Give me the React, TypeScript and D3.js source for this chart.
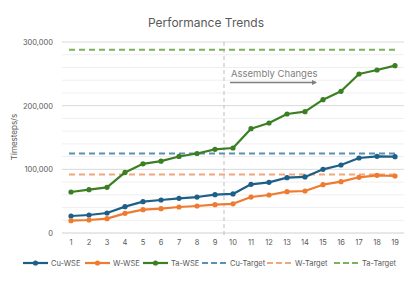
import React, { useEffect, useRef } from "react";
import * as d3 from "d3";

const steps = d3.range(1, 20).map(String);
const cuWse = [26700, 28300, 31400, 41400, 49200, 51800, 54500, 56500, 60200, 61300, 76500, 79600, 86900, 88000, 100000, 106800, 117800, 120500, 119900];
const wWse = [19400, 20400, 22500, 30900, 36600, 38200, 40800, 42400, 44500, 45800, 56500, 59700, 64900, 66000, 75900, 80600, 87500, 90600, 89500];
const taWse = [64400, 68000, 71700, 95200, 108600, 112800, 120200, 124900, 131400, 133500, 163800, 172800, 186900, 190600, 209400, 222600, 249700, 256000, 262800];
const targets = [
  { name: "Cu-Target", value: 125000, color: "#5b8fb3" },
  { name: "W-Target", value: 92000, color: "#f4a67a" },
  { name: "Ta-Target", value: 288000, color: "#7ab35a" },
];
const series = [
  { name: "Cu-WSE", values: cuWse, color: "#1d5f86" },
  { name: "W-WSE", values: wWse, color: "#ee7b30" },
  { name: "Ta-WSE", values: taWse, color: "#3b7f23" },
];
const yTicks = [0, 100000, 200000, 300000];

const App = () => {
  const ref = useRef<SVGSVGElement>(null);

  useEffect(() => {
    const width = 415;
    const height = 281;
    const svg = d3.select(ref.current);
    svg.selectAll("*").remove();
    svg.attr("width", width).attr("height", height);
    const font = "Inter, 'Open Sans', sans-serif";

    const x = d3.scaleBand().domain(steps).range([62, 404]);
    const y = d3.scaleLinear().domain([0, 300000]).range([233, 42]);
    const cx = (i: number) => x(steps[i])! + x.bandwidth() / 2;

    // gridlines every 20,000
    svg
      .append("g")
      .selectAll("line")
      .data(d3.range(20000, 300001, 20000))
      .join("line")
      .attr("x1", 62)
      .attr("x2", 404)
      .attr("y1", (d) => y(d))
      .attr("y2", (d) => y(d))
      .attr("stroke", (d) => (d % 100000 === 0 ? "#d9d9d9" : "#efefef"))
      .attr("stroke-width", 1);

    svg
      .append("line")
      .attr("x1", 62)
      .attr("x2", 404)
      .attr("y1", y(0))
      .attr("y2", y(0))
      .attr("stroke", "#d0d0d0");

    // y labels
    svg
      .append("g")
      .attr("font-family", font)
      .attr("font-size", 7.5)
      .attr("fill", "#595959")
      .attr("text-anchor", "end")
      .selectAll("text")
      .data(yTicks)
      .join("text")
      .attr("x", 53)
      .attr("y", (d) => y(d) + 3)
      .text((d) => d3.format(",")(d));

    // x labels
    svg
      .append("g")
      .attr("font-family", font)
      .attr("font-size", 7.5)
      .attr("fill", "#595959")
      .attr("text-anchor", "middle")
      .selectAll("text")
      .data(steps)
      .join("text")
      .attr("x", (d, i) => cx(i))
      .attr("y", 245)
      .text((d) => d);

    // title + axis title
    svg
      .append("text")
      .attr("x", 206)
      .attr("y", 27)
      .attr("text-anchor", "middle")
      .attr("font-family", font)
      .attr("font-size", 12)
      .attr("fill", "#595959")
      .text("Performance Trends");

    svg
      .append("text")
      .attr("transform", "translate(17,137) rotate(-90)")
      .attr("text-anchor", "middle")
      .attr("font-family", font)
      .attr("font-size", 8)
      .attr("fill", "#595959")
      .text("Timesteps/s");

    // vertical divider between 9 and 10
    const divX = (cx(8) + cx(9)) / 2;
    svg
      .append("line")
      .attr("x1", divX)
      .attr("x2", divX)
      .attr("y1", 42)
      .attr("y2", 236)
      .attr("stroke", "#bfbfbf")
      .attr("stroke-width", 1)
      .attr("stroke-dasharray", "4,3");

    // annotation
    svg
      .append("text")
      .attr("x", 231)
      .attr("y", 77)
      .attr("font-family", font)
      .attr("font-size", 9.5)
      .attr("fill", "#7f7f7f")
      .text("Assembly Changes");
    svg
      .append("defs")
      .append("marker")
      .attr("id", "arrow")
      .attr("viewBox", "0 0 10 10")
      .attr("refX", 8)
      .attr("refY", 5)
      .attr("markerWidth", 4)
      .attr("markerHeight", 4)
      .attr("orient", "auto")
      .append("path")
      .attr("d", "M0,0L10,5L0,10z")
      .attr("fill", "#7f7f7f");
    svg
      .append("line")
      .attr("x1", 230)
      .attr("x2", 316)
      .attr("y1", 82.5)
      .attr("y2", 82.5)
      .attr("stroke", "#7f7f7f")
      .attr("stroke-width", 1.3)
      .attr("marker-end", "url(#arrow)");

    // target lines
    svg
      .append("g")
      .selectAll("line")
      .data(targets)
      .join("line")
      .attr("x1", cx(0) - 2)
      .attr("x2", cx(18))
      .attr("y1", (d) => y(d.value))
      .attr("y2", (d) => y(d.value))
      .attr("stroke", (d) => d.color)
      .attr("stroke-width", 2)
      .attr("stroke-dasharray", "6,4");

    // series
    const line = d3
      .line<number>()
      .x((d, i) => cx(i))
      .y((d) => y(d));

    const g = svg.append("g").selectAll("g").data(series).join("g");
    g.append("path")
      .attr("d", (d) => line(d.values))
      .attr("fill", "none")
      .attr("stroke", (d) => d.color)
      .attr("stroke-width", 2.2)
      .attr("stroke-linejoin", "round");
    g.selectAll("circle")
      .data((d) => d.values.map((v) => ({ v, color: d.color })))
      .join("circle")
      .attr("cx", (d, i) => cx(i))
      .attr("cy", (d) => y(d.v))
      .attr("r", 2.6)
      .attr("fill", (d) => d.color);

    // legend
    const legend = [
      ...series.map((s) => ({ name: s.name, color: s.color, dash: false })),
      ...targets.map((t) => ({ name: t.name, color: t.color, dash: true })),
    ];
    const legX = [23, 85, 143, 202, 267, 334];
    const lg = svg
      .append("g")
      .selectAll("g")
      .data(legend)
      .join("g")
      .attr("transform", (d, i) => `translate(${legX[i]},263)`);
    lg.append("line")
      .attr("x1", 0)
      .attr("x2", 25)
      .attr("stroke", (d) => d.color)
      .attr("stroke-width", 2.2)
      .attr("stroke-dasharray", (d) => (d.dash ? "6,3" : null));
    lg.filter((d) => !d.dash)
      .append("circle")
      .attr("cx", 12.5)
      .attr("r", 2.6)
      .attr("fill", (d) => d.color);
    lg.append("text")
      .attr("x", 28)
      .attr("y", 3)
      .attr("font-family", font)
      .attr("font-size", 7.5)
      .attr("fill", "#595959")
      .text((d) => d.name);
  }, []);

  return <svg ref={ref} style={{ position: "absolute", left: 0, top: 0 }}></svg>;
};

export default App;
